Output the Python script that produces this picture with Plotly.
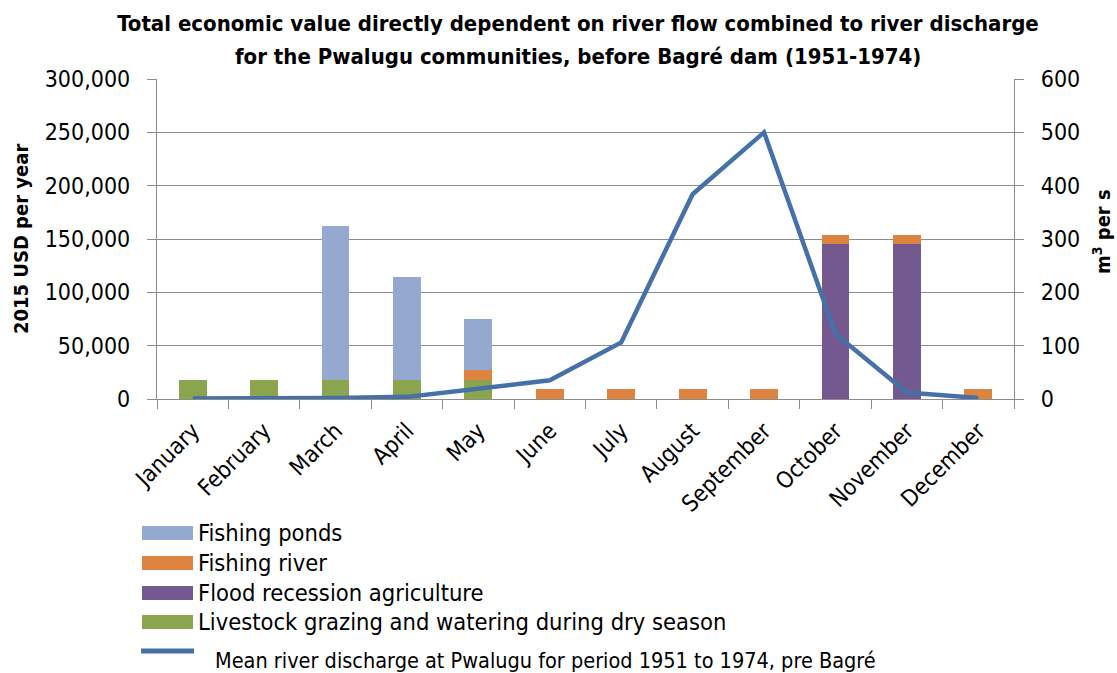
import plotly.graph_objects as go

months = ["January", "February", "March", "April", "May", "June", "July",
          "August", "September", "October", "November", "December"]

# Economic value per month (2015 USD per year)
livestock = [18000, 18000, 18000, 18000, 18000, 0, 0, 0, 0, 0, 0, 0]
flood_recession = [0, 0, 0, 0, 0, 0, 0, 0, 0, 145000, 145000, 0]
fishing_river = [0, 0, 0, 0, 9000, 9000, 9000, 9000, 9000, 9000, 9000, 9000]
fishing_ponds = [0, 0, 144000, 96000, 48000, 0, 0, 0, 0, 0, 0, 0]

# Mean river discharge at Pwalugu (m3/s)
discharge = [1, 1, 2, 4, 19, 35, 106, 384, 500, 122, 12, 2]

title_lines = ["Total economic value directly dependent on river flow combined to river discharge",
               "for the Pwalugu communities, before Bagré dam (1951-1974)"]

names = {
    "ponds": "Fishing ponds",
    "river": "Fishing river",
    "flood": "Flood recession agriculture",
    "livestock": "Livestock grazing and watering during dry season",
    "line": "Mean river discharge at Pwalugu for period 1951 to 1974, pre Bagré",
}
colors = {
    "ponds": "#95A9D0",
    "river": "#DC8440",
    "flood": "#73598F",
    "livestock": "#8BA54F",
    "line": "#4571A8",
}

FONT = "DejaVu Sans Condensed, Roboto, sans-serif"
GRID = "#8C8C8C"
TICK_SIZE = 23

fig = go.Figure()
stack = [("livestock", livestock), ("flood", flood_recession),
         ("river", fishing_river), ("ponds", fishing_ponds)]
for key, vals in stack:
    fig.add_trace(go.Bar(x=months, y=vals, name=names[key],
                         marker=dict(color=colors[key], line=dict(width=0)),
                         showlegend=False))

fig.add_trace(go.Scatter(x=months, y=discharge, name=names["line"], yaxis="y2",
                         mode="lines", line=dict(color=colors["line"], width=4.5),
                         showlegend=False))

W, H = 1117, 673
L, R, T, B = 157, 1014, 79, 399


def px(x):
    return (x - L) / (R - L)


def py(y):
    return (B - y) / (B - T)


shapes = []
annotations = []

# Legend drawn below the chart
legend_rows = [("ponds", 533), ("river", 563), ("flood", 593), ("livestock", 622)]
for key, yc in legend_rows:
    shapes.append(dict(type="rect", xref="paper", yref="paper",
                       x0=px(142), x1=px(193), y0=py(yc - 7), y1=py(yc + 7),
                       fillcolor=colors[key], line=dict(width=0)))
    annotations.append(dict(xref="paper", yref="paper", x=px(196), y=py(yc),
                            xanchor="left", yanchor="middle", showarrow=False,
                            text=names[key], font=dict(family=FONT, size=23.5, color="#000")))
shapes.append(dict(type="line", xref="paper", yref="paper",
                   x0=px(141), x1=px(194), y0=py(651), y1=py(651),
                   line=dict(color=colors["line"], width=5)))
annotations.append(dict(xref="paper", yref="paper", x=px(213), y=py(660),
                        xanchor="left", yanchor="middle", showarrow=False,
                        text=names["line"], font=dict(family=FONT, size=21.5, color="#000")))

# Second line of the chart title
annotations.append(dict(xref="paper", yref="paper", x=px(578), y=py(56),
                        xanchor="center", yanchor="middle", showarrow=False,
                        text="<b>" + title_lines[1] + "</b>",
                        font=dict(family=FONT, size=22, color="#000")))

# Axis titles
annotations.append(dict(xref="paper", yref="paper", x=px(21), y=py(239),
                        xanchor="center", yanchor="middle", showarrow=False, textangle=-90,
                        text="<b>2015 USD per year</b>",
                        font=dict(family=FONT, size=20, color="#000")))
annotations.append(dict(xref="paper", yref="paper", x=px(1102), y=py(232),
                        xanchor="center", yanchor="middle", showarrow=False, textangle=-90,
                        text="<b>m<sup>3</sup> per s</b>",
                        font=dict(family=FONT, size=20, color="#000")))

axis_common = dict(ticks="outside", ticklen=9, tickcolor=GRID, tickwidth=1.3,
                   showline=True, linecolor=GRID, linewidth=1.3,
                   tickfont=dict(family=FONT, size=TICK_SIZE, color="#000"))

fig.update_layout(
    width=W, height=H,
    margin=dict(l=L, r=W - R, t=T, b=H - B, pad=0),
    paper_bgcolor="white", plot_bgcolor="white",
    barmode="stack", bargap=0.61,
    font=dict(family=FONT, size=20, color="#000"),
    title=dict(text="<b>" + title_lines[0] + "</b>",
               xref="paper", x=px(578), xanchor="center",
               yref="container", y=1 - 23 / H, yanchor="middle",
               font=dict(family=FONT, size=22, color="#000")),
    xaxis=dict(type="category", tickangle=-45, tickson="boundaries",
               showgrid=False, ticklabelstandoff=8, **axis_common),
    yaxis=dict(range=[0, 300000], dtick=50000, tickformat=",",
               showgrid=True, gridcolor=GRID, gridwidth=1.3, zeroline=False,
               ticklabelstandoff=12, **axis_common),
    yaxis2=dict(range=[0, 600], dtick=100, overlaying="y", side="right",
                showgrid=False, zeroline=False, ticklabelstandoff=12, **axis_common),
    shapes=shapes, annotations=annotations,
    showlegend=False,
)

fig.write_html("out.html")
